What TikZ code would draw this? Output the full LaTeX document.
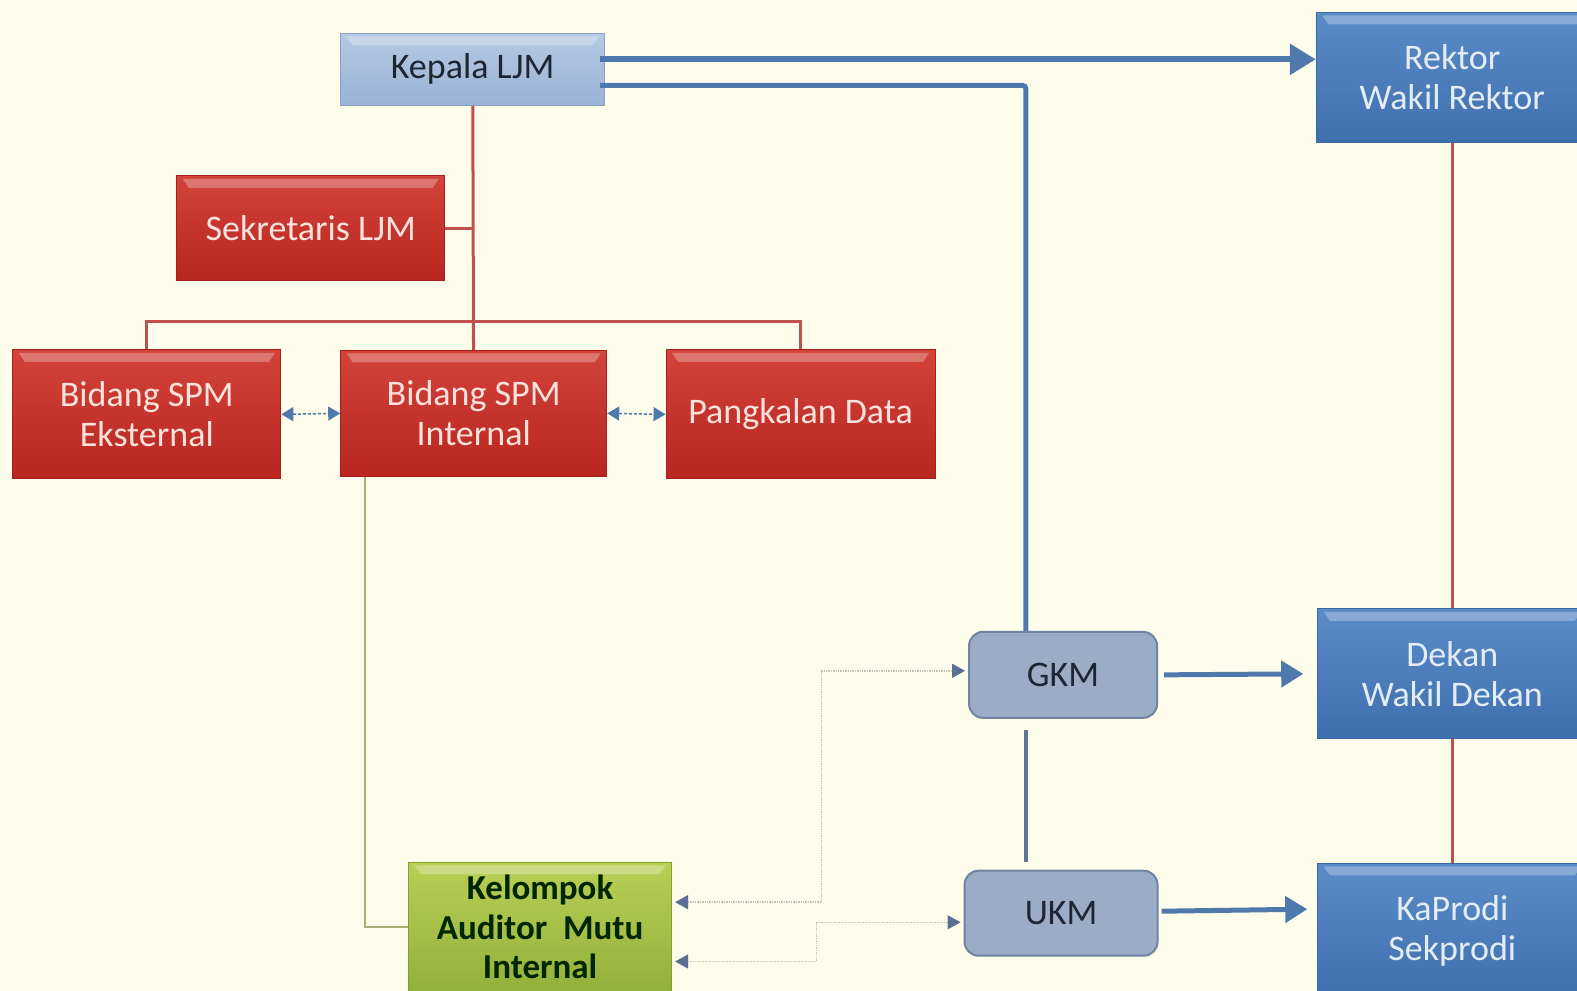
\documentclass[tikz,border=0pt]{standalone}
\usepackage{fontspec}
\setmainfont{Carlito}
\usetikzlibrary{arrows.meta,calc}
\definecolor{bg}{HTML}{FEFDEB}
\definecolor{redT}{HTML}{D2433A}
\definecolor{redB}{HTML}{B8261F}
\definecolor{redE}{HTML}{A8201C}
\definecolor{redtext}{HTML}{FBE2DA}
\definecolor{blT}{HTML}{5A8CC8}
\definecolor{blB}{HTML}{3F70AE}
\definecolor{blE}{HTML}{3A679F}
\definecolor{bltext}{HTML}{E4ECF5}
\definecolor{ltT}{HTML}{B4CAE4}
\definecolor{ltB}{HTML}{99B3D4}
\definecolor{ltE}{HTML}{8AA2C2}
\definecolor{gyF}{HTML}{9BADC6}
\definecolor{gyE}{HTML}{6F84A2}
\definecolor{grT}{HTML}{B9CF55}
\definecolor{grB}{HTML}{93B03A}
\definecolor{grE}{HTML}{86A030}
\definecolor{darktext}{HTML}{1E2633}
\definecolor{redline}{HTML}{C0504D}
\definecolor{blueline}{HTML}{4F79AD}
\definecolor{greyline}{HTML}{5F7596}
\definecolor{oliveline}{HTML}{A9AE72}
\definecolor{dotline}{HTML}{C4C4BA}
\definecolor{tipcol}{HTML}{5B6F92}
\begin{document}
\begin{tikzpicture}[x=1.0057pt,y=-1.0057pt,
  bevel/.style={path picture={\fill[white,opacity=.28]
     ([xshift=6pt,yshift=-3pt]path picture bounding box.north west) --
     ([xshift=-6pt,yshift=-3pt]path picture bounding box.north east) --
     ([xshift=-12pt,yshift=-12pt]path picture bounding box.north east) --
     ([xshift=12pt,yshift=-12pt]path picture bounding box.north west) -- cycle;}},
  boxbase/.style={align=center,inner sep=0pt,line width=1pt,
     font=\fontsize{36}{40}\selectfont},
  redbox/.style={boxbase,bevel,draw=redE,top color=redT,bottom color=redB,text=redtext},
  bluebox/.style={boxbase,bevel,draw=blE,top color=blT,bottom color=blB,text=bltext},
  lightbox/.style={boxbase,bevel,draw=ltE,top color=ltT,bottom color=ltB,text=darktext},
  greenbox/.style={boxbase,bevel,draw=grE,top color=grT,bottom color=grB,text=black!85!green,
     font=\fontsize{35}{39.5}\selectfont\bfseries},
  roundbox/.style={boxbase,draw=gyE,fill=gyF,rounded corners=14pt,line width=2pt,text=darktext},
  redconn/.style={redline,line width=3pt},
  bigarrow/.style={blueline,line width=6pt,-{Triangle[length=26pt,width=30pt]}},
  midarrow/.style={blueline,line width=5pt,-{Triangle[length=22pt,width=26pt]}},
  greyconn/.style={greyline,line width=4.5pt},
  dbl/.style={blueline,line width=1.5pt,densely dashed,
     {Triangle[length=12pt,width=14pt]}-{Triangle[length=12pt,width=14pt]}},
  dotconn/.style={dotline,line width=1.4pt,densely dotted,
     {Triangle[length=13pt,width=14pt,color=tipcol]}-{Triangle[length=13pt,width=14pt,color=tipcol]}},
  oliveconn/.style={oliveline,line width=2pt}
]
\useasboundingbox (0,0) rectangle (1568,985);
\clip (0,0) rectangle (1568,985);
\fill[bg] (0,0) rectangle (1568,985);

% nodes
\node[lightbox,minimum width=264pt,minimum height=72pt] (kepala) at (470,69) {Kepala LJM};
\node[bluebox,minimum width=272pt,minimum height=130pt] (rektor) at (1444,77) {Rektor\\Wakil Rektor};
\node[redbox,minimum width=268pt,minimum height=105pt] (sek) at (309,227) {Sekretaris LJM};
\node[redbox,minimum width=268pt,minimum height=129pt] (eks) at (146,412) {Bidang SPM\\Eksternal};
\node[redbox,minimum width=266pt,minimum height=126pt] (int) at (471,411) {Bidang SPM\\Internal};
\node[redbox,minimum width=269pt,minimum height=129pt] (pang) at (796,412) {Pangkalan Data};
\node[roundbox,minimum width=188pt,minimum height=86pt] (gkm) at (1057,671) {GKM};
\node[roundbox,minimum width=193pt,minimum height=85pt] (ukm) at (1055,908) {UKM};
\node[bluebox,minimum width=269pt,minimum height=130pt] (dekan) at (1444,670) {Dekan\\Wakil Dekan};
\node[bluebox,minimum width=269pt,minimum height=136pt] (kaprodi) at (1444,926) {KaProdi\\Sekprodi};
\node[greenbox,minimum width=263pt,minimum height=130pt] (kel) at (537,922) {Kelompok\\Auditor\ \ Mutu\\Internal};

% red organisational lines
\coordinate (bus) at (471,320);
\draw[redconn] (kepala) -- (int);
\draw[redconn] (sek.east) -- (sek.east -| kepala.south);
\draw[redconn] (eks.north) -- (eks.north |- bus) -- (pang.north |- bus) -- (pang.north);
\draw[redconn] (rektor.south) -- (rektor.south |- dekan.north);
\draw[redconn] (dekan.south) -- (dekan.south |- kaprodi.north);

% dashed double arrows
\draw[dbl] (eks.east) -- (int.west);
\draw[dbl] (int.east) -- (pang.west);

% Kepala -> Rektor, Kepala -> GKM
\coordinate (kA) at ($(kepala.east)+(-5,-10)$);
\coordinate (kB) at ($(kepala.east)+(-5,16)$);
\coordinate (gkmtop) at ($(gkm.north)+(-37,0)$);
\draw[bigarrow] (kA) -- (kA -| rektor.west);
\draw[greyconn,blueline,line width=5pt,rounded corners=3pt] (kB) -| (gkmtop);

% GKM - UKM
\draw[greyconn] ($(gkm.south)+(-37,11)$) -- ($(ukm.north)+(-35,-8)$);

% GKM -> Dekan, UKM -> KaProdi
\draw[midarrow] ($(gkm.east)+(6,0)$) -- ($(dekan.west)+(-14,0)$);
\draw[midarrow] ($(ukm.east)+(3,-2)$) -- ($(kaprodi.west)+(-10,-22)$);

% olive line
\coordinate (oT) at ($(int.south)+(-108,0)$);
\draw[oliveconn] (oT) |- (kel.west);

% dotted links
\coordinate (d1) at (817,0);
\coordinate (d2) at (812,0);
\coordinate (kel1) at ($(kel.east)+(3,-25)$);
\coordinate (kel2) at ($(kel.east)+(3,34)$);
\coordinate (ukmw) at ($(ukm.west)+(-3,9)$);
\coordinate (gkmw) at ($(gkm.west)+(-3,-4)$);
\draw[dotconn] (kel1) -- (kel1 -| d1) -- (d1 |- gkmw) -- (gkmw);
\draw[dotconn] (kel2) -- (kel2 -| d2) -- (d2 |- ukmw) -- (ukmw);
\end{tikzpicture}
\end{document}
